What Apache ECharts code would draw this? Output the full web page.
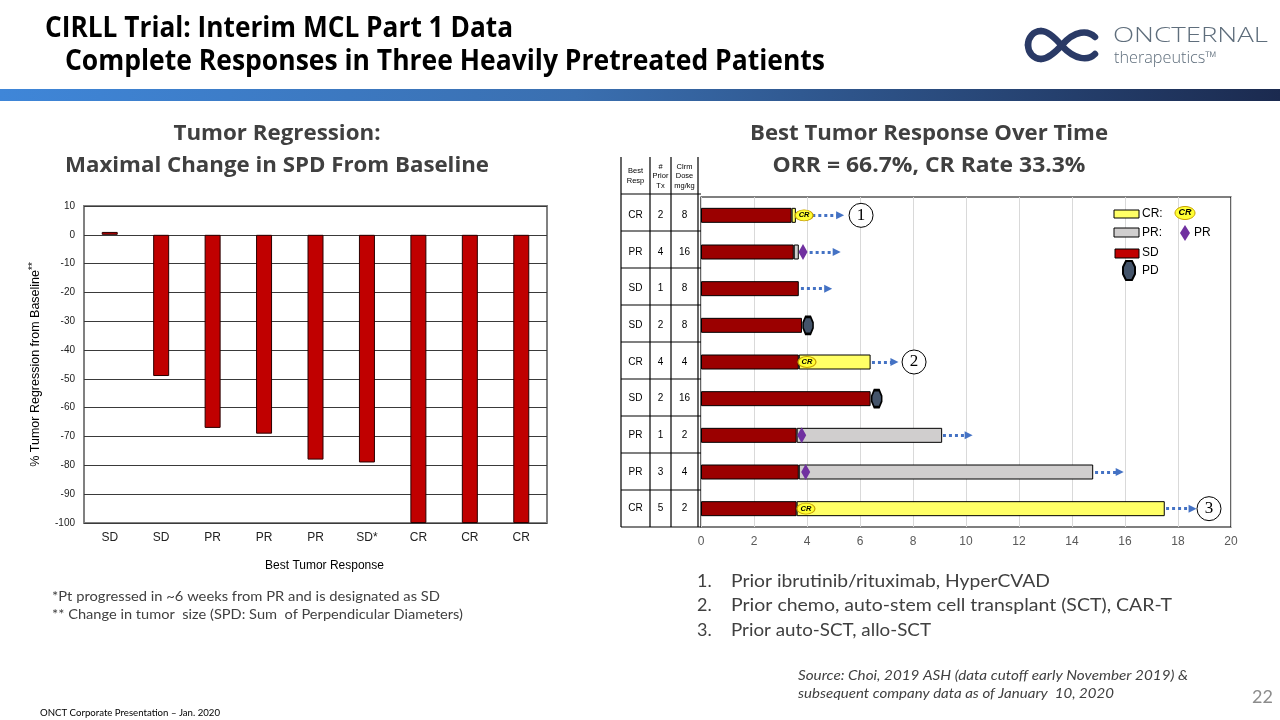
<!DOCTYPE html>
<html><head><meta charset="utf-8">
<script src="https://cdn.jsdelivr.net/npm/echarts@6/dist/echarts.min.js"></script>
<style>html,body{margin:0;padding:0;background:#fff}#c{width:1280px;height:720px}</style>
</head><body><div id="c"></div>
<script>
// ---- Left chart: tumor regression waterfall ----
const tumorCats = ['SD','SD','PR','PR','PR','SD*','CR','CR','CR'];
const tumorChange = [1,-49,-67,-69,-78,-79,-100,-100,-100];

// ---- Right chart: swimmer plot (weeks) ----
const rowIds = ['1','2','3','4','5','6','7','8','9'];
const bestResp = ['CR','PR','SD','SD','CR','SD','PR','PR','CR'];
const priorTx = [2,4,1,2,4,2,1,3,5];
const doseMgKg = [8,16,8,8,4,16,2,4,2];
const sdEnd = [3.42,3.5,3.69,3.81,3.69,6.4,3.61,3.69,3.61];
const respEnd = [3.58,3.69,null,null,6.4,null,9.1,14.8,17.5];
const crMarks = [[3.89,0],[4.0,4],[3.96,8]];
const prMarks = [[3.85,1],[3.8,6],[3.95,7]];
const pdMarks = [[4.04,3],[6.63,5]];
const ongoingFrom = [4.2,4.1,3.77,null,6.45,null,9.13,14.87,17.55];
const ongoingTo = [5.25,5.12,4.8,null,7.3,null,10.1,15.8,18.55];
const calloutX = [6.04,8.04,19.17];
const calloutRow = [0,4,8];
const calloutLbl = ['1','2','3'];
const weekTicks = {min:0,max:20,interval:2};

const respColor = {CR:'#ffff66', PR:'#d0cece', SD:'#9b0000'};

const mctx = document.createElement('canvas').getContext('2d');
function fit(text, font, w){ mctx.font = font; return w / mctx.measureText(text).width; }
function txt(text, x, y, font, w, opts){
  opts = opts || {};
  const s = w ? fit(text, font, w) : 1;
  return {type:'text', x:x, y:y, scaleX:s, z:10,
    style:Object.assign({text:text, font:font, fill:opts.fill||'#404040',
      align:opts.align||'left', textAlign:opts.align||'left',
      verticalAlign:'middle', textVerticalAlign:'middle'}, opts.style||{})};
}

const chart = echarts.init(document.getElementById('c'));
const G = [];
// header title
const tf = 'bold 28px "Open Sans"';
G.push(txt('CIRLL Trial: Interim MCL Part 1 Data',45,29,tf,468,{fill:'#000'}));
G.push(txt('Complete Responses in Three Heavily Pretreated Patients',65,62,tf,760,{fill:'#000'}));
// gradient band
G.push({type:'rect',shape:{x:0,y:89,width:1280,height:12},style:{fill:new echarts.graphic.LinearGradient(0,0,1,0,[{offset:0,color:'#3f86d8'},{offset:0.45,color:'#3a6fb0'},{offset:1,color:'#1b2a4f'}])}});
// logo
const logoSegs = [
  [1095,54,1088,61,1075,60,1062,46],
  [1062,46,1052,34,1046,31,1041,31],
  [1041,31,1033,31,1028,38,1028,45],
  [1028,45,1028,53,1034,59,1041,59],
  [1041,59,1046,59,1052,56,1062,45],
  [1062,45,1075,30,1088,30,1095,37]
];
logoSegs.forEach(s=>G.push({type:'bezierCurve',shape:{x1:s[0],y1:s[1],cpx1:s[2],cpy1:s[3],cpx2:s[4],cpy2:s[5],x2:s[6],y2:s[7]},style:{fill:null,stroke:'#2a3a66',lineWidth:6.5,lineCap:'round'}}));
G.push(txt('ONCTERNAL',1113,36,'300 21px "Open Sans"',155,{fill:'#5f6e7c'}));
G.push(txt('therapeutics™',1114,58,'300 16px "Open Sans"',103,{fill:'#5f6e7c'}));
// section titles
const sf = 'bold 21px "Open Sans"';
G.push(txt('Tumor Regression:',277,134,sf,207,{align:'center'}));
G.push(txt('Maximal Change in SPD From Baseline',277,166,sf,424,{align:'center'}));
G.push(txt('Best Tumor Response Over Time',929,134,sf,358,{align:'center'}));
G.push(txt('ORR = 66.7%, CR Rate 33.3%',929,166,sf,313,{align:'center'}));
// footnotes left
G.push(txt('*Pt progressed in ~6 weeks from PR and is designated as SD',52,596,'14px Lato',388));
G.push(txt('** Change in tumor  size (SPD: Sum  of Perpendicular Diameters)',52,614,'14px Lato',411));
// numbered list
const lf = '18px Lato';
G.push(txt('1.',697,581,lf,0));
G.push(txt('Prior ibrutinib/rituximab, HyperCVAD',731,581,lf,319));
G.push(txt('2.',697,605,lf,0));
G.push(txt('Prior chemo, auto-stem cell transplant (SCT), CAR-T',731,605,lf,441));
G.push(txt('3.',697,630,lf,0));
G.push(txt('Prior auto-SCT, allo-SCT',731,630,lf,200));
G.push(txt('Source: Choi, 2019 ASH (data cutoff early November 2019) &',798,676,'italic 13px Lato',390));
G.push(txt('subsequent company data as of January  10, 2020',798,694,'italic 13px Lato',316));
G.push(txt('22',1252,697,'18px Lato',0,{fill:'#8c8c8c'}));
G.push(txt('ONCT Corporate Presentation – Jan. 2020',40,713,'9px Lato',180,{fill:'#000'}));

// table lines
const tx = [621,650,671,698];
tx.forEach(x=>G.push({type:'line',shape:{x1:x,y1:157,x2:x,y2:527},style:{stroke:'#000',lineWidth:1.2}}));
const ty = [194,231,268,305,342,379,416,453,490,527];
ty.forEach(y=>G.push({type:'line',shape:{x1:621,y1:y,x2:701,y2:y},style:{stroke:'#000',lineWidth:1.2}}));
const hf = '7.5px "Liberation Sans"';
[['Best\nResp',635.5],['#\nPrior\nTx',660.5],['Clrm\nDose\nmg/kg',684.5]].forEach(h=>{
  G.push({type:'text',x:h[1],y:176,z:10,style:{text:h[0],font:hf,fill:'#000',align:'center',textAlign:'center',verticalAlign:'middle',textVerticalAlign:'middle',lineHeight:9.5}});
});

// legend (right chart)
G.push({type:'rect',shape:{x:1114,y:210,width:25,height:8},style:{fill:respColor.CR,stroke:'#000',lineWidth:1},z:10});
G.push(txt('CR:',1142,214,'12px "Liberation Sans"',0,{fill:'#000'}));
G.push({type:'ellipse',shape:{cx:1185,cy:213,rx:10,ry:6.5},style:{fill:'#ffff33',stroke:'#c8a000',lineWidth:1},z:10});
G.push(txt('CR',1185,213,'italic bold 9px "Liberation Sans"',0,{fill:'#000',align:'center'}));
G.push({type:'rect',shape:{x:1114,y:228,width:25,height:9},style:{fill:respColor.PR,stroke:'#000',lineWidth:1},z:10});
G.push(txt('PR:',1142,233,'12px "Liberation Sans"',0,{fill:'#000'}));
G.push({type:'polygon',shape:{points:[[1185,225],[1190,233],[1185,241],[1180,233]]},style:{fill:'#7030a0'},z:10});
G.push(txt('PR',1194,233,'12px "Liberation Sans"',0,{fill:'#000'}));
G.push({type:'rect',shape:{x:1115,y:249,width:24,height:9},style:{fill:'#c00000',stroke:'#000',lineWidth:1},z:10});
G.push(txt('SD',1142,253,'12px "Liberation Sans"',0,{fill:'#000'}));
G.push({type:'polygon',shape:{points:[[1126,261],[1132,261],[1135,267],[1135,274],[1132,280],[1126,280],[1123,274],[1123,267]]},style:{fill:'#44546a',stroke:'#000',lineWidth:2},z:10});
G.push(txt('PD',1142,271,'12px "Liberation Sans"',0,{fill:'#000'}));

const swimSD = sdEnd.map(v=>v);
const swimResp = respEnd.map((v,i)=> v==null ? null : {value:+(v-sdEnd[i]).toFixed(3), itemStyle:{color:respColor[bestResp[i]]}});
const arrowData = [];
ongoingFrom.forEach((a,i)=>{ if(a!=null) arrowData.push({coords:[[a,i],[ongoingTo[i],i]]}); });

const ellipsePath = 'path://M0,10 A10,10 0 1,1 20,10 A10,10 0 1,1 0,10 Z';
const hexPath = 'path://M3,0 L9,0 L12,7 L12,13 L9,20 L3,20 L0,13 L0,7 Z';

chart.setOption({
  animation:false,
  backgroundColor:'#fff',
  textStyle:{fontFamily:'"Liberation Sans", Arial, sans-serif'},
  grid:[
    {left:84, top:206, width:463, height:317, show:true, borderColor:'#808080', borderWidth:2, backgroundColor:'transparent'},
    {left:701, top:197, width:530, height:330, show:true, borderColor:'#000', borderWidth:1.2, backgroundColor:'transparent'}
  ],
  xAxis:[
    {gridIndex:0, type:'category', data:tumorCats, position:'bottom',
     axisLine:{show:false}, axisTick:{show:false},
     axisLabel:{color:'#222', fontSize:12, margin:9},
     name:'Best Tumor Response', nameLocation:'middle', nameGap:37,
     nameTextStyle:{color:'#000', fontSize:12, padding:[0,0,0,18]}},
    {gridIndex:1, type:'value', min:weekTicks.min, max:weekTicks.max, interval:weekTicks.interval,
     axisLine:{show:false}, axisTick:{show:false},
     axisLabel:{color:'#595959', fontSize:12, margin:9},
     splitLine:{show:true, lineStyle:{color:'#d9d9d9', width:1}}}
  ],
  yAxis:[
    {gridIndex:0, type:'value', min:-100, max:10, interval:10,
     axisLine:{show:false}, axisTick:{show:false},
     axisLabel:{color:'#222', fontSize:10, margin:9},
     splitLine:{show:true, lineStyle:{color:'#3a3a3a', width:1}},
     name:'{a|% Tumor Regression from Baseline}{b|**}', nameLocation:'middle', nameGap:40,
     nameTextStyle:{rich:{a:{fontSize:12.5,color:'#000'},b:{fontSize:10,color:'#000',verticalAlign:'top',padding:[0,0,6,0]}}}},
    {gridIndex:1, type:'category', data:rowIds, inverse:true,
     axisLine:{show:false}, axisTick:{show:false}, splitLine:{show:false},
     axisLabel:{margin:3, formatter:(v,i)=>'{a|'+bestResp[i]+'}{b|'+priorTx[i]+'}{c|'+doseMgKg[i]+'}',
       rich:{a:{width:29,align:'center',fontSize:10,color:'#000'},b:{width:21,align:'center',fontSize:10,color:'#000'},c:{width:27,align:'center',fontSize:10,color:'#000'}}}}
  ],
  graphic:G,
  series:[
    {type:'bar', xAxisIndex:0, yAxisIndex:0, data:tumorChange, barWidth:16,
     itemStyle:{color:'#c00000', borderColor:'#2a0000', borderWidth:1}},
    {type:'bar', xAxisIndex:1, yAxisIndex:1, stack:'s', data:swimSD, barWidth:15,
     itemStyle:{color:respColor.SD, borderColor:'#000', borderWidth:1}},
    {type:'bar', xAxisIndex:1, yAxisIndex:1, stack:'s', data:swimResp, barWidth:15,
     itemStyle:{borderColor:'#000', borderWidth:1}},
    {type:'lines', coordinateSystem:'cartesian2d', xAxisIndex:1, yAxisIndex:1, data:arrowData, z:4,
     symbol:['none','triangle'], symbolSize:8,
     lineStyle:{color:'#4472c4', width:3, type:[3,3], opacity:1}},
    {type:'scatter', xAxisIndex:1, yAxisIndex:1, data:crMarks, symbol:ellipsePath, symbolSize:[18,11], z:5,
     itemStyle:{color:'#ffff33', borderColor:'#c8a000', borderWidth:1, opacity:1},
     label:{show:true, position:'inside', formatter:'CR', fontSize:7.5, fontStyle:'italic', fontWeight:'bold', color:'#000'}},
    {type:'scatter', xAxisIndex:1, yAxisIndex:1, data:prMarks, symbol:'diamond', symbolSize:[9,16], z:5,
     itemStyle:{color:'#7030a0', opacity:1}},
    {type:'scatter', xAxisIndex:1, yAxisIndex:1, data:pdMarks, symbol:hexPath, symbolSize:[10,17], z:5,
     itemStyle:{color:'#44546a', borderColor:'#000', borderWidth:2, opacity:1}},
    {type:'scatter', xAxisIndex:1, yAxisIndex:1, z:5,
     data:calloutX.map((x,i)=>[x,calloutRow[i],calloutLbl[i]]),
     symbol:'circle', symbolSize:24,
     itemStyle:{color:'#fff', borderColor:'#000', borderWidth:1, opacity:1},
     label:{show:true, position:'inside', formatter:p=>p.value[2], fontSize:17, fontFamily:'"Liberation Serif", serif', color:'#000'}}
  ]
});
</script></body></html>
